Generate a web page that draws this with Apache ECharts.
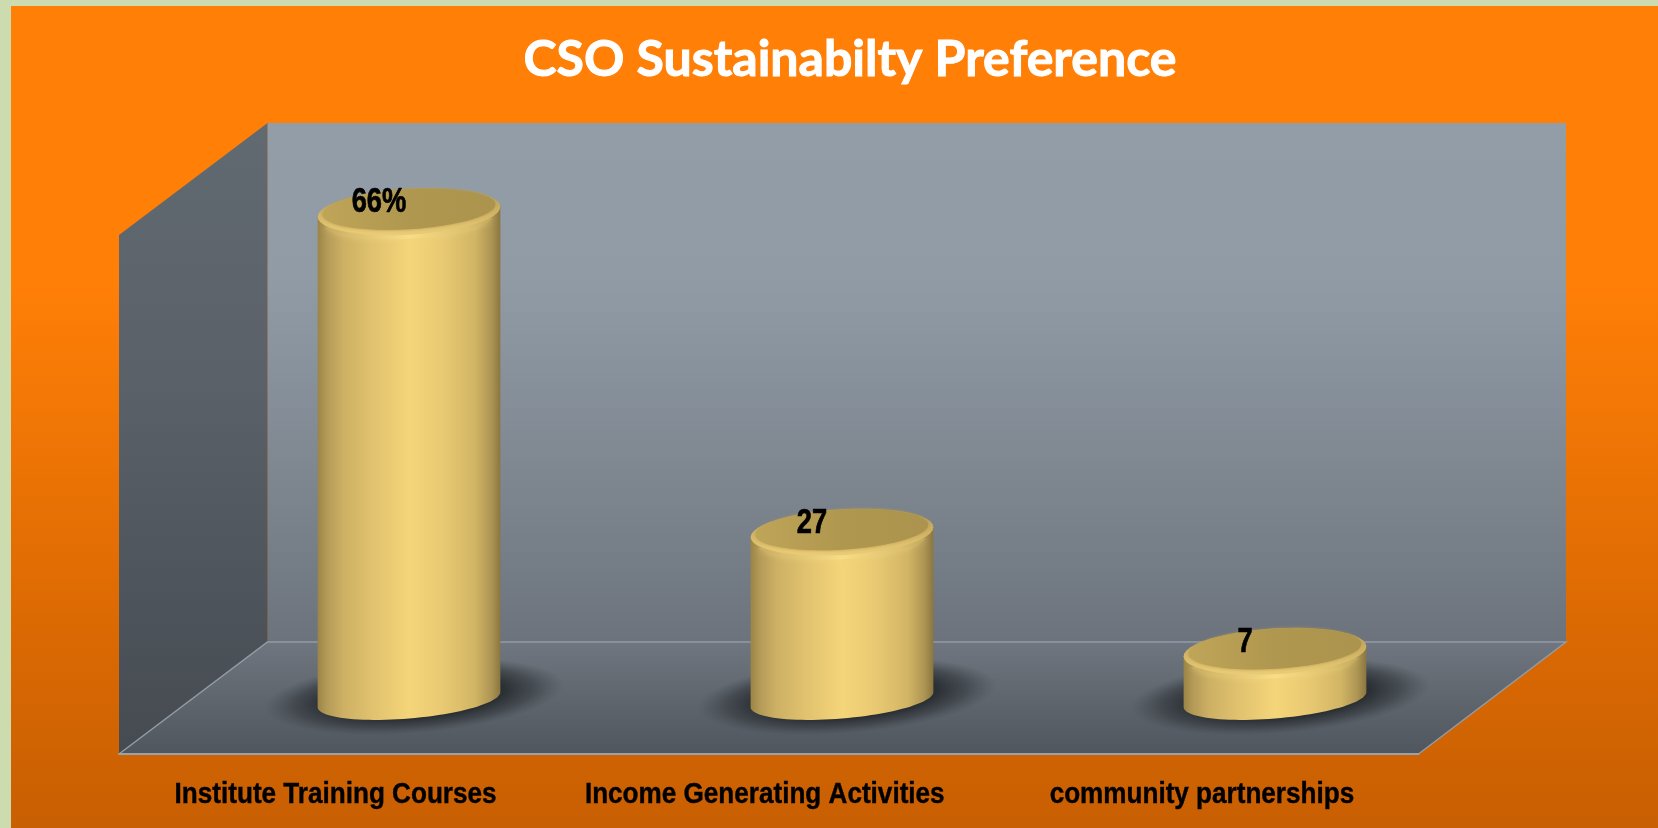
<!DOCTYPE html>
<html>
<head>
<meta charset="utf-8">
<title>CSO Sustainabilty Preference</title>
<style>
html, body { margin: 0; padding: 0; background: #cddcae; }
#container { width: 1658px; height: 828px; }
</style>
<script src="https://cdn.jsdelivr.net/npm/echarts@6/dist/echarts.min.js"></script>
</head>
<body>
<div id="container"></div>
<script>
var chartTitle = "CSO Sustainabilty Preference";
var categories = ["Institute Training Courses", "Income Generating Activities", "community partnerships"];
// heights as drawn in the picture; the middle cylinder is drawn shorter than its printed 27
var barHeights = [66, 23, 7];
var barLabels = ["66%", "27", "7"];

var bodyStops = [
    [0, "#9c8446"], [0.05, "#b39a58"], [0.14, "#cdb063"], [0.3, "#e0c26f"],
    [0.5, "#f5d579"], [0.68, "#e9ca73"], [0.86, "#d2b565"], [0.95, "#ad9553"], [1, "#8b7641"]
];
var boldFont = "'Liberation Sans', Arial, sans-serif";

function hGrad(stops) {
    return {
        type: "linear", x: 0, y: 0, x2: 1, y2: 0,
        colorStops: stops.map(function (s) { return { offset: s[0], color: s[1] }; })
    };
}
function vGrad(stops) {
    return {
        type: "linear", x: 0, y: 0, x2: 0, y2: 1,
        colorStops: stops.map(function (s) { return { offset: s[0], color: s[1] }; })
    };
}

// tilted ellipse as a polyline, from angle t0 to t1
function ellipsePts(cx, cy, a, b, lift, t0, t1) {
    var pts = [];
    for (var i = 0; i <= 48; i++) {
        var t = t0 + (t1 - t0) * i / 48;
        pts.push([cx + a * Math.cos(t), cy + b * Math.sin(t) - lift * Math.cos(t)]);
    }
    return pts;
}

function renderCylinder(params, api) {
    var idx = api.value(0);
    var top = api.coord([idx, api.value(1)]);
    var base = api.coord([idx, 0]);
    var band = api.size([1, 0])[0];
    var a = band * 0.211;
    var b = 19;
    var lift = 7.5;
    var capLift = 5;
    var cx = top[0];
    var PI = Math.PI;

    var body = ellipsePts(cx, top[1] + 4, a, b, capLift, PI, 2 * PI)
        .concat(ellipsePts(cx, base[1], a, b, lift, 0, PI));

    return {
        type: "group",
        children: [
            {
                type: "circle",
                x: cx + 5, y: base[1] - 3,
                scaleX: 1.5, scaleY: 0.37, rotation: 0.08,
                shape: { cx: 0, cy: 0, r: 100 },
                style: {
                    fill: {
                        type: "radial", x: 0.5, y: 0.5, r: 0.5,
                        colorStops: [
                            { offset: 0, color: "rgba(36,41,44,1)" },
                            { offset: 0.6, color: "rgba(40,45,49,0.95)" },
                            { offset: 0.8, color: "rgba(46,51,56,0.55)" },
                            { offset: 1, color: "rgba(60,65,70,0)" }
                        ]
                    }
                }
            },
            {
                type: "polygon",
                shape: { points: body },
                style: { fill: hGrad(bodyStops) }
            },
            {
                type: "polygon",
                shape: { points: ellipsePts(cx, top[1] + 8, a - 3, b + 4, capLift, PI * 0.1, PI * 0.9) },
                style: {
                    fill: hGrad([[0, "#c4aa5f"], [0.15, "#dabe6d"], [0.5, "#f8dc86"], [0.85, "#dcc06e"], [1, "#c2a85e"]]),
                    shadowBlur: 6, shadowColor: "rgba(240,214,130,0.6)"
                }
            },
            {
                type: "polygon",
                shape: { points: ellipsePts(cx, top[1] + 4, a, b + 4, capLift, 0, 2 * PI) },
                style: { fill: vGrad([[0, "#b69d54"], [0.45, "#ccb062"], [1, "#eccd76"]]) }
            },
            {
                type: "polygon",
                shape: { points: ellipsePts(cx, top[1] + 1.5, a - 5, b + 1, capLift, 0, 2 * PI) },
                style: {
                    fill: hGrad([[0, "#bfa558"], [0.5, "#b0974f"], [1, "#ad944e"]]),
                    shadowBlur: 3, shadowColor: "#b39a51"
                }
            },
            {
                type: "text",
                x: cx - 30, y: top[1] - 5,
                scaleX: 0.78, originX: 0, originY: 0,
                style: {
                    text: barLabels[idx],
                    fill: "#000",
                    stroke: "#000",
                    lineWidth: 0.7,
                    font: "bold 35px " + boldFont,
                    textAlign: "center",
                    textVerticalAlign: "middle"
                }
            }
        ]
    };
}

// category names along the front edge of the floor, squeezed like the narrow face in the original
function renderCategory(params, api) {
    var idx = api.value(0);
    var pos = api.coord([idx, 0]);
    var nudge = idx == 1 ? -4 : 0;
    return {
        type: "text",
        x: pos[0] + nudge, y: pos[1] + 41,
        scaleX: 0.9, originX: 0, originY: 0,
        style: {
            text: categories[idx],
            fill: "#000",
            stroke: "#000",
            lineWidth: 0.4,
            font: "bold 29px " + boldFont,
            textAlign: "center",
            textVerticalAlign: "middle"
        }
    };
}

var myChart = echarts.init(document.getElementById("container"));
myChart.setOption({
    animation: false,
    backgroundColor: "#cddcae",
    title: {
        text: chartTitle,
        left: 845,
        top: 30,
        textAlign: "center",
        textStyle: { color: "#fff", fontFamily: "Lato", fontWeight: "bold", fontSize: 50, textBorderColor: "#fff", textBorderWidth: 1 }
    },
    grid: [
        { left: 192.5, width: 1299, top: 103.5, height: 596 },
        { left: 119, width: 1299.5, top: 700, height: 54 }
    ],
    xAxis: [
        { type: "category", gridIndex: 0, data: categories, show: false },
        {
            type: "category", gridIndex: 1, data: categories, z: 1,
            axisTick: { show: false },
            axisLine: { lineStyle: { color: "#9aa3aa", width: 2 } },
            axisLabel: { show: false }
        }
    ],
    yAxis: [
        { type: "value", gridIndex: 0, min: 0, max: 80, show: false },
        { type: "value", gridIndex: 1, min: 0, max: 1, show: false }
    ],
    graphic: {
        elements: [
            {
                type: "rect", z: -10, silent: true,
                shape: { x: 11, y: 6, width: 1647, height: 822 },
                style: { fill: vGrad([[0, "#ff7f07"], [0.34, "#ff7f07"], [0.72, "#de6b03"], [1, "#c85f02"]]) }
            },
            {
                type: "polygon", z: -9, silent: true,
                shape: { points: [[267.5, 123], [1566, 123], [1566, 642], [267.5, 642]] },
                style: { fill: vGrad([[0, "#929da8"], [0.3, "#919ba6"], [0.7, "#7d868f"], [1, "#6c737c"]]) }
            },
            {
                type: "polygon", z: -9, silent: true,
                shape: { points: [[119, 235], [267.5, 123], [267.5, 642], [119, 754]] },
                style: { fill: vGrad([[0, "#626a71"], [0.4, "#5a6168"], [1, "#464b52"]]) }
            },
            {
                type: "polygon", z: -9, silent: true,
                shape: { points: [[267.5, 642], [1566, 642], [1418.5, 754], [119, 754]] },
                style: { fill: vGrad([[0, "#6f767f"], [1, "#50565d"]]) }
            },
            {
                type: "polyline", z: -8, silent: true,
                shape: { points: [[119, 754], [267.5, 642], [1566, 642], [1418.5, 754]] },
                style: { fill: null, stroke: "#929ca6", lineWidth: 1.5 }
            }
        ]
    },
    series: [{
        type: "custom",
        xAxisIndex: 0,
        yAxisIndex: 0,
        z: 5,
        renderItem: renderCylinder,
        encode: { x: 0, y: 1 },
        data: barHeights.map(function (h, i) { return [i, h]; })
    }, {
        type: "custom",
        xAxisIndex: 1,
        yAxisIndex: 1,
        z: 5,
        renderItem: renderCategory,
        encode: { x: 0, y: 1 },
        data: categories.map(function (c, i) { return [i, 0]; })
    }]
});
</script>
</body>
</html>
